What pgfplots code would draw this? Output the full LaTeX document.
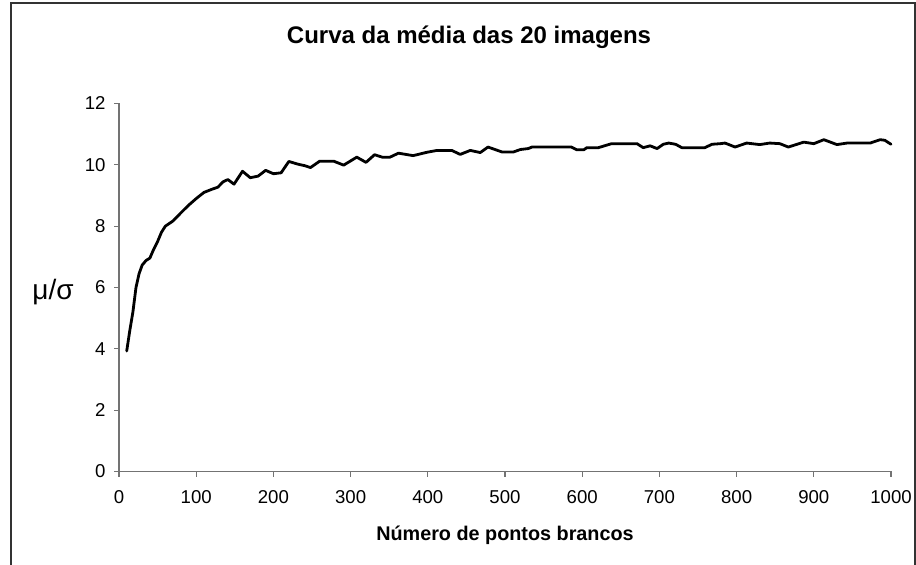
\documentclass[border=0pt]{standalone}
\usepackage{fontspec}
\setmainfont{Liberation Sans}
\usepackage{pgfplots}
\pgfplotsset{compat=1.18}
\pgfplotstableread{
x y
10 3.93
14 4.6
18 5.2
22 6.0
26 6.45
30 6.73
35 6.88
40 6.96
45 7.25
50 7.5
55 7.8
60 8.0
70 8.17
80 8.43
90 8.68
100 8.9
110 9.1
120 9.2
128 9.27
135 9.45
141 9.52
149 9.37
160 9.79
170 9.58
180 9.63
190 9.82
200 9.71
210 9.74
220 10.11
232 10.02
241 9.97
248 9.91
260 10.12
278 10.12
291 9.99
308 10.25
320 10.08
331 10.33
341 10.25
351 10.25
362 10.38
381 10.30
399 10.41
412 10.47
431 10.47
442 10.34
455 10.47
468 10.40
478 10.58
496 10.42
511 10.42
520 10.50
530 10.53
535 10.58
586 10.58
593 10.49
602 10.49
606 10.56
621 10.56
638 10.69
671 10.69
679 10.56
688 10.62
697 10.53
705 10.67
712 10.71
721 10.67
729 10.56
759 10.56
768 10.67
779 10.69
785 10.71
798 10.58
813 10.71
830 10.66
843 10.71
856 10.69
867 10.58
887 10.74
900 10.69
913 10.82
930 10.66
943 10.71
973 10.71
986 10.82
992 10.80
1000 10.67
}\meandata
\begin{document}
\begin{tikzpicture}
\useasboundingbox (0,0) rectangle (916bp,565bp);
\draw[line width=1.5bp, black!80] (11bp,0) -- (11bp,562bp) -- (915bp,562bp) -- (915bp,0);
\begin{axis}[
  at={(119bp,93.5bp)}, anchor=south west,
  scale only axis, width=772bp, height=368bp,
  xmin=0, xmax=1000, ymin=0, ymax=12,
  xtick={0,100,...,1000}, ytick={0,2,...,12},
  axis lines=left, axis line style={-, gray!90!black, line width=1.2bp},
  tick align=outside, major tick length=5bp,
  tick style={gray!90!black, line width=1.2bp},
  ticklabel style={font=\fontsize{18.6bp}{20bp}\selectfont, text=black},
  xticklabel style={yshift=-10bp},
  yticklabel style={xshift=-5bp},
  /pgf/number format/assume math mode=true,
  /pgf/number format/1000 sep={},
  clip=false,
]
\addplot[black, line width=2.8bp, line join=round, line cap=round] table[x=x,y=y] {\meandata};
\end{axis}
\node[font=\fontsize{24bp}{28bp}\selectfont\bfseries] at (469bp,528bp) {Curva da média das 20 imagens};
\node[font=\fontsize{19.8bp}{23bp}\selectfont\bfseries] at (505bp,30bp) {Número de pontos brancos};
\node[font=\fontsize{28bp}{30bp}\selectfont] at (53bp,273bp) {μ/σ};
\end{tikzpicture}
\end{document}
